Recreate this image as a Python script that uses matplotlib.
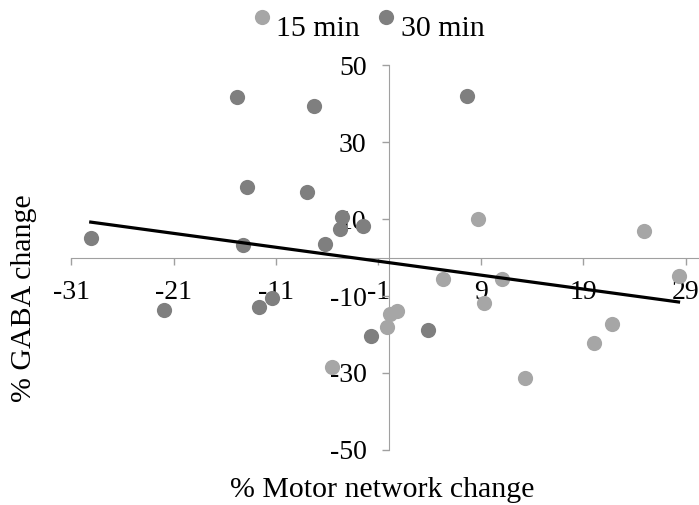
import matplotlib
matplotlib.use("Agg")
import matplotlib.pyplot as plt
import numpy as np

plt.rcParams['font.family'] = ['Liberation Serif', 'DejaVu Serif']
plt.rcParams['axes.unicode_minus'] = False

# 30 min series
x30 = [-29.1, -14.8, -7.3, -13.8, -8.0, 7.6, -6.2, -14.2, -4.6, -4.8, -2.5,
       -11.4, -12.7, -21.95, -1.75, 3.87]
y30 = [5.1, 41.8, 39.4, 18.4, 17.0, 42.0, 3.4, 3.2, 10.6, 7.5, 8.2,
       -10.6, -12.9, -13.6, -20.4, -18.7]
# 15 min series
x15 = [8.75, 24.9, 5.3, 11.05, 28.3, 9.3, 0.78, 0.08, -0.14, -5.5, 13.3, 21.8, 20.0]
y15 = [10.0, 6.9, -5.6, -5.7, -4.8, -11.9, -13.8, -14.7, -18.1, -28.5, -31.3, -17.3, -22.3]

xticks = [-31, -21, -11, -1, 9, 19, 29]
yticks = [-50, -30, -10, 10, 30, 50]

light = '#a6a6a6'
dark = '#7f7f7f'
axis_col = '#a0a0a0'

fig = plt.figure(figsize=(6.99, 5.05), dpi=100)
ax = fig.add_axes([0.102, 0.109, 0.898, 0.762])

ax.scatter(x15, y15, s=120, color=light, zorder=3, label='15 min', linewidths=0)
ax.scatter(x30, y30, s=120, color=dark, zorder=3, label='30 min', linewidths=0)

xa = np.array(x15 + x30)
ya = np.array(y15 + y30)
m, b = np.polyfit(xa, ya, 1)
xs = np.array([xa.min(), xa.max()])
ax.plot(xs, m * xs + b, color='black', lw=2.3, zorder=4)

ax.set_xlim(-31, 30.3)
ax.set_ylim(-50, 50)
ax.set_xticks(xticks)
ax.set_yticks(yticks)
ax.tick_params(labelsize=20, length=5, width=1, color=axis_col)
ax.tick_params(axis='x', pad=11)
ax.tick_params(axis='y', pad=11)

for s in ['top', 'right']:
    ax.spines[s].set_visible(False)
ax.spines['left'].set_position(('data', 0))
ax.spines['bottom'].set_position(('data', 0))
ax.spines['left'].set_color(axis_col)
ax.spines['bottom'].set_color(axis_col)

fig.text(0.547, 0.03, '% Motor network change', ha='center', va='center', fontsize=21.5)
fig.text(0.034, 0.41, '% GABA change', ha='center', va='center', fontsize=21.5, rotation=90)

fig.legend(loc='center', bbox_to_anchor=(0.526, 0.944), ncol=2, frameon=False,
           fontsize=21.5, handlelength=0.75, handletextpad=0.1, columnspacing=0.5,
           scatteryoffsets=[0.9], borderpad=0)

fig.savefig('out.png', dpi=100)
